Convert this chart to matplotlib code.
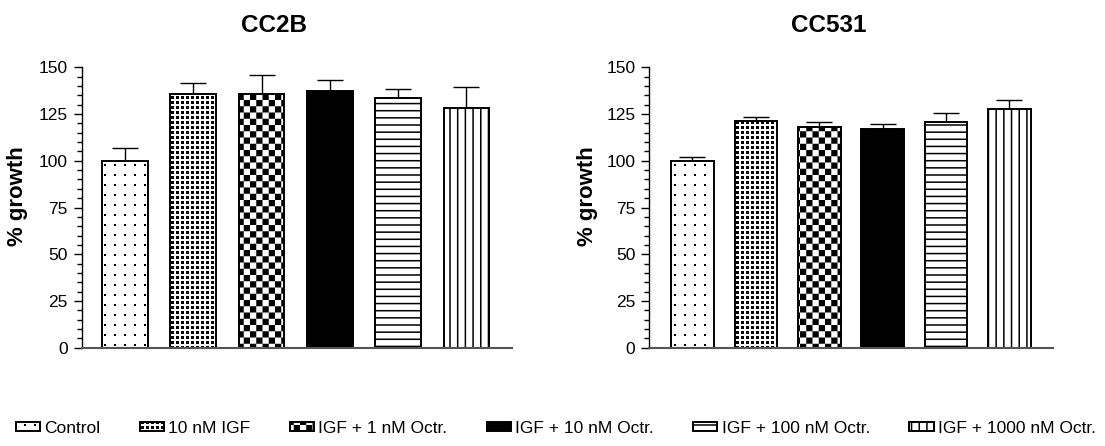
import numpy as np
import matplotlib
matplotlib.use("Agg")
import matplotlib.pyplot as plt
import matplotlib.hatch as mhatch
from matplotlib.path import Path

groups = ["Control", "10 nM IGF", "IGF + 1 nM Octr.", "IGF + 10 nM Octr.",
          "IGF + 100 nM Octr.", "IGF + 1000 nM Octr."]
cc2b_mean = [100, 135.5, 135.5, 137.3, 133.7, 128.1]
cc2b_sem = [7.0, 5.9, 10.2, 5.9, 4.6, 11.5]
cc531_mean = [100, 121.5, 118.0, 116.9, 120.5, 127.6]
cc531_sem = [2.1, 2.1, 2.7, 2.9, 5.2, 4.9]

hatches = [".", "o", "x", None, "-", "|"]
faces = ["white", "white", "white", "black", "white", "white"]

DPI = 100
plt.rcParams["font.family"] = ["Liberation Sans", "DejaVu Sans"]
plt.rcParams["hatch.linewidth"] = 1.1
PX = 1.0 / DPI   # hatch tile = 1 inch
STROKE = plt.rcParams["hatch.linewidth"] / 72 * DPI * PX


#### custom hatches: dot grids, checkerboard, plain lines
class Squares(mhatch.HatchPatternBase):
    char, n, frac, checker = ".", 10, 0.2, False

    def __init__(self, hatch, density):
        on = hatch is not None and self.char in hatch
        self.cells = [(i, j) for i in range(self.n) for j in range(self.n)
                      if on and (not self.checker or (i + j) % 2 == 0)]
        self.num_vertices = 5 * len(self.cells)

    def set_vertices_and_codes(self, vertices, codes):
        step = 1.0 / self.n
        half = max(self.frac * step - STROKE, 0.3 * PX) / 2
        sq = np.array([[-1, -1], [1, -1], [1, 1], [-1, 1], [-1, -1]]) * half
        for k, (i, j) in enumerate(self.cells):
            vertices[5*k:5*k+5] = sq + [(i + 0.5) * step, (j + 0.5) * step]
            codes[5*k:5*k+5] = [Path.MOVETO, Path.LINETO, Path.LINETO,
                                Path.LINETO, Path.CLOSEPOLY]


class Lines(mhatch.HatchPatternBase):
    char, n, vertical = "-", 14, False

    def __init__(self, hatch, density):
        on = hatch is not None and self.char in hatch
        self.num_vertices = 2 * self.n if on else 0

    def set_vertices_and_codes(self, vertices, codes):
        pos = (np.arange(self.n) + 0.5) / self.n
        v = np.zeros((2 * self.n, 2))
        v[1::2, 0] = 1
        v[0::2, 1] = pos
        v[1::2, 1] = pos
        vertices[:] = v[:, ::-1] if self.vertical else v
        codes[0::2] = Path.MOVETO
        codes[1::2] = Path.LINETO


class SparseDots(Squares):
    char, n, frac = ".", 10, 0.2

class DenseDots(Squares):
    char, n, frac = "o", 20, 0.6

class Checker(Squares):
    char, n, frac, checker = "x", 16, 1.0, True

class HLines(Lines):
    char, n = "-", 14

class VLines(Lines):
    char, n, vertical = "|", 13, True

mhatch._hatch_types[:] = [SparseDots, DenseDots, Checker, HLines, VLines]


fig = plt.figure(figsize=(1105 / DPI, 446 / DPI), dpi=DPI)
ax1 = fig.add_axes([0.0739, 0.2204, 0.3894, 0.6287])
ax2 = fig.add_axes([0.5876, 0.2204, 0.3651, 0.6287])

x = np.arange(len(groups))
panels = [(ax1, "CC2B", cc2b_mean, cc2b_sem, (-0.634, 5.666), 0.448, -0.15),
          (ax2, "CC531", cc531_mean, cc531_sem, (-0.681, 5.682), 0.4455, -0.152)]

for ax, title, mean, sem, xlim, tx, lx in panels:
    bars = ax.bar(x, mean, width=0.67, color=faces, edgecolor="black",
                  linewidth=1.4, hatch=hatches, zorder=2)
    ax.errorbar(x, mean, yerr=[np.zeros(len(sem)), sem], fmt="none",
                ecolor="black", elinewidth=1.0, capsize=9.5, capthick=1.0,
                zorder=1)
    ax.set_xlim(*xlim)
    ax.set_ylim(0, 150)
    ax.set_yticks(np.arange(0, 151, 25))
    ax.set_yticks(np.arange(0, 151, 5), minor=True)
    ax.set_xticks([])
    ax.tick_params(axis="y", which="major", length=6, width=1.0, labelsize=12.5,
                   pad=4)
    ax.tick_params(axis="y", which="minor", length=3.5, width=1.0)
    ax.spines[["top", "right"]].set_visible(False)
    ax.spines["left"].set_linewidth(1.0)
    ax.spines["bottom"].set_linewidth(1.5)
    ax.spines["bottom"].set_color("#555555")
    ax.set_ylabel("% growth", fontsize=16, fontweight="bold", va="center")
    ax.yaxis.set_label_coords(lx, 0.54)
    ax.text(tx, 1.127, title, transform=ax.transAxes, ha="center",
            va="baseline", fontsize=17.5, fontweight="bold")

fig.legend(bars, groups, loc="center", bbox_to_anchor=(0.008, 0.02, 0.99, 0.04),
           mode="expand", ncol=6, frameon=False, fontsize=12.5,
           handlelength=1.4, handleheight=0.5, handletextpad=0.25,
           borderaxespad=0)

fig.savefig("out.png", dpi=DPI)
